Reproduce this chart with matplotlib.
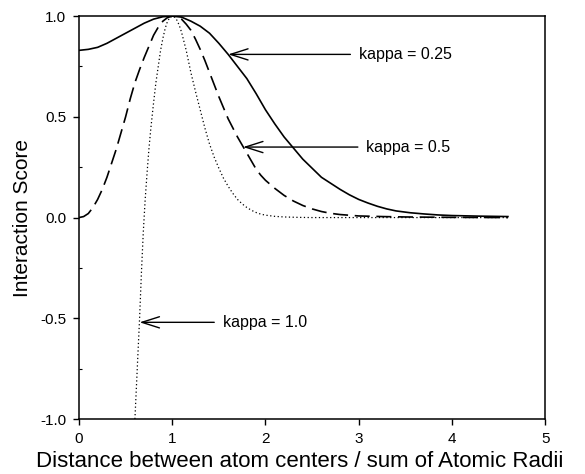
import numpy as np
import matplotlib
matplotlib.use("Agg")
import matplotlib.pyplot as plt
from matplotlib.ticker import MultipleLocator, FormatStrFormatter

plt.rcParams['font.family'] = ['Liberation Sans', 'DejaVu Sans']

# interaction score vs. normalised distance, one curve per kappa
d_k025 = [0.0, 0.1, 0.2, 0.3, 0.4, 0.5, 0.6, 0.7, 0.8, 0.9, 1.0, 1.1, 1.2,
          1.3, 1.4, 1.5, 1.6, 1.7, 1.8, 1.9, 2.0, 2.1, 2.2, 2.3, 2.4, 2.5,
          2.6, 2.7, 2.8, 2.9, 3.0, 3.1, 3.2, 3.3, 3.4, 3.55, 3.7, 3.85, 4.0,
          4.3, 4.6]
s_k025 = [0.83, 0.835, 0.845, 0.865, 0.89, 0.915, 0.94, 0.965, 0.985, 0.997,
          1.0, 0.995, 0.975, 0.95, 0.915, 0.865, 0.81, 0.75, 0.69, 0.615,
          0.535, 0.465, 0.40, 0.345, 0.29, 0.245, 0.20, 0.17, 0.14, 0.113,
          0.09, 0.072, 0.056, 0.043, 0.033, 0.024, 0.018, 0.013, 0.01, 0.007,
          0.005]

d_k05 = [0.0, 0.05, 0.1, 0.15, 0.2, 0.25, 0.3, 0.35, 0.4, 0.45, 0.5, 0.55,
         0.6, 0.65, 0.7, 0.75, 0.8, 0.85, 0.9, 0.95, 1.0, 1.05, 1.1, 1.15,
         1.2, 1.25, 1.3, 1.35, 1.4, 1.45, 1.5, 1.55, 1.6, 1.65, 1.7, 1.75,
         1.8, 1.85, 1.9, 1.95, 2.0, 2.1, 2.2, 2.3, 2.4, 2.5, 2.6, 2.7, 2.8,
         3.0, 3.25, 3.5, 4.0, 4.6]
s_k05 = [0.0, 0.005, 0.02, 0.05, 0.09, 0.14, 0.20, 0.27, 0.34, 0.42, 0.50,
         0.59, 0.67, 0.735, 0.795, 0.85, 0.905, 0.945, 0.975, 0.993, 1.0,
         0.998, 0.985, 0.96, 0.93, 0.885, 0.835, 0.78, 0.72, 0.66, 0.60,
         0.545, 0.49, 0.445, 0.40, 0.36, 0.32, 0.28, 0.24, 0.21, 0.185,
         0.145, 0.11, 0.082, 0.06, 0.043, 0.03, 0.021, 0.015, 0.008, 0.005,
         0.003, 0.001, 0.0]

d_k10 = [0.60, 0.625, 0.65, 0.67, 0.69, 0.71, 0.73, 0.75, 0.77, 0.80, 0.825,
         0.85, 0.875, 0.90, 0.925, 0.95, 0.975, 1.0, 1.025, 1.05, 1.075, 1.1,
         1.125, 1.15, 1.175, 1.2, 1.25, 1.3, 1.35, 1.4, 1.45, 1.5, 1.55, 1.6,
         1.65, 1.7, 1.75, 1.8, 1.85, 1.9, 1.95, 2.0, 2.1, 2.2, 2.35, 2.5,
         3.0, 3.5, 4.0, 4.6]
s_k10 = [-1.0, -0.75, -0.50, -0.27, -0.07, 0.09, 0.22, 0.34, 0.44, 0.57,
         0.67, 0.75, 0.83, 0.89, 0.94, 0.975, 0.993, 1.0, 0.995, 0.98, 0.955,
         0.92, 0.875, 0.83, 0.775, 0.72, 0.625, 0.535, 0.445, 0.365, 0.30,
         0.245, 0.195, 0.155, 0.12, 0.09, 0.068, 0.05, 0.036, 0.025, 0.017,
         0.012, 0.006, 0.003, 0.001, 0.0, 0.0, 0.0, 0.0, 0.0]

# label text, arrow tip (on curve) and label x position
labels = ['kappa = 0.25', 'kappa = 0.5', 'kappa = 1.0']
tips = [(1.6, 0.81), (1.76, 0.35), (0.65, -0.52)]
label_x = [3.0, 3.08, 1.54]

fig = plt.figure(figsize=(5.85, 4.74), dpi=100)
ax = fig.add_axes([0.135, 0.116, 0.797, 0.85])

ax.plot(d_k025, s_k025, color='black', lw=1.2, solid_joinstyle='round')
ax.plot(d_k05, s_k05, color='black', lw=1.2, dashes=(9, 4))
ax.plot(d_k10, s_k10, color='black', lw=0.9, dashes=(1, 2))

arrow = dict(arrowstyle='->,head_length=1.1,head_width=0.35',
             color='black', lw=1.0, shrinkA=4, shrinkB=0)
for text, tip, tx in zip(labels, tips, label_x):
    ax.annotate(text, xy=tip, xytext=(tx, tip[1]), fontsize=11.5,
                ha='left', va='center', arrowprops=arrow)

ax.set_xlim(0, 5)
ax.set_ylim(-1, 1)
ax.xaxis.set_major_locator(MultipleLocator(1))
ax.yaxis.set_major_locator(MultipleLocator(0.5))
ax.yaxis.set_minor_locator(MultipleLocator(0.25))
ax.yaxis.set_major_formatter(FormatStrFormatter('%.1f'))
ax.tick_params(which='major', direction='out', length=4, width=1.0,
               labelsize=11, pad=5)
ax.tick_params(which='minor', axis='y', direction='in', length=2, width=0.8)
for sp in ax.spines.values():
    sp.set_linewidth(1.1)

ax.set_xlabel('Distance between atom centers / sum of Atomic Radii',
              fontsize=16)
ax.xaxis.set_label_coords(0.474, -0.08)
ax.set_ylabel('Interaction Score', fontsize=15)
ax.yaxis.set_label_coords(-0.10, 0.5)

fig.savefig('out.png', dpi=100)
